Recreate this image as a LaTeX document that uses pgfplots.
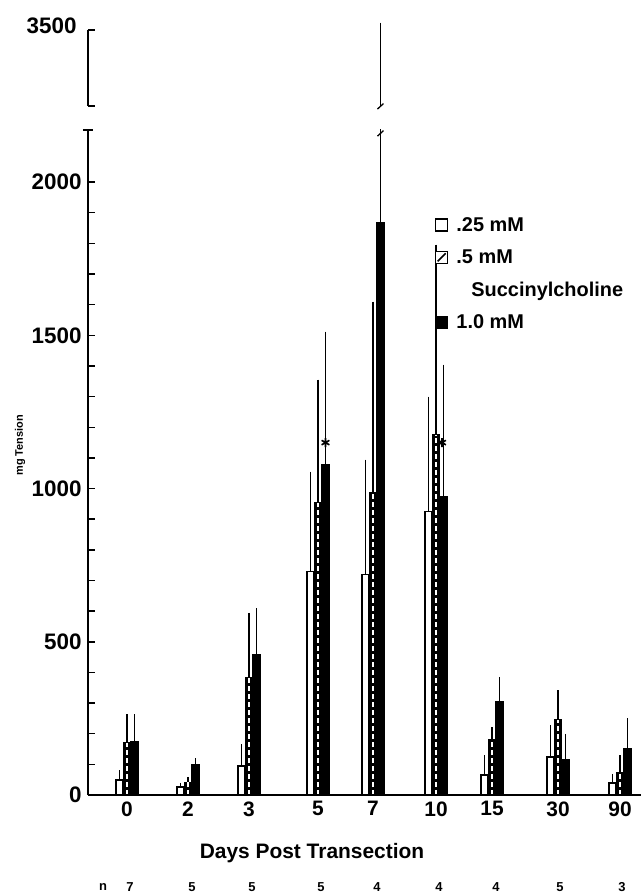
\documentclass[border=0pt]{standalone}
\usepackage{fontspec}
\setmainfont{Liberation Sans}
\usepackage{pgfplots}
\usepackage{pgfplotstable}
\pgfplotsset{compat=1.18}

% xa/xb/xc = bar positions along the axis, a/b/c = .25/.5/1.0 mM, ae/be/ce = upper SE
\pgfplotstableread{
xa    xb  xc    a   ae   b    be   c    ce
119.5 127 134.5 49  23   170  85   173  82
180.5 188 195.5 26  5    42   8    98   13
241.5 249 256.5 95  62   382  203  458  143
310.5 318 325.5 729 317  954  392  1078 425
365.5 373 380.5 719 366  987  614  1869 1646
428.5 436 443.5 925 366  1176 611  974  421
484.5 492 499.5 65  56   180  32   304  72
550.5 558 565.5 124 95   245  88   114  76
612.5 620 627.5 40  20   72   49   150  92
}\tension

\pgfplotsset{
  errs/.style={error bars/y dir=plus, error bars/y explicit, error bars/error mark=-,
    error bars/error bar style={line width=1.2bp, black, solid},
    error bars/error mark options={line width=1.4bp, mark size=2.8bp, black, solid}},
  base/.style={width=553bp, scale only axis, xmin=88, xmax=641,
    axis line style={line width=1.8bp, -}, tick style={line width=1.5bp, black},
    tick align=inside, major tick length=7bp, minor tick length=7bp,
    /pgf/number format/assume math mode=true,
    every tick label/.append style={font=\fontsize{21}{24}\selectfont\bfseries},
    yticklabel style={font=\fontsize{22.5}{26}\selectfont\bfseries, xshift=-3bp},
    clip mode=individual, axis on top},
}
\tikzset{nlab/.style={font=\fontsize{13}{15}\selectfont\bfseries, anchor=center}}

\begin{document}
\begin{tikzpicture}
\path[use as bounding box] (-88bp,-100bp) rectangle (553bp,795bp);

\begin{axis}[base, name=lower, height=665bp, ymin=0, ymax=2170,
  axis x line*=bottom, axis y line*=left,
  xtick={127,188,249,318,373,436,492,558,620},
  xticklabels={0,2,3,5,7,10,15,30,90},
  x tick style={draw=none},
  xticklabel style={yshift=-3bp},
  ytick={0,500,1000,1500,2000}, yticklabels={0,500,1000,1500,2000},
  minor ytick={100,200,300,400,600,700,800,900,1100,1200,1300,1400,1600,1700,1800,1900},
  extra y ticks={2170}, extra y tick labels={},
  extra y tick style={tick align=center, major tick length=10bp},
  xlabel={Days Post Transection},
  xlabel style={at={(axis description cs:0.405,-0.087)}, anchor=center,
    font=\fontsize{21}{24}\selectfont\bfseries},
  ylabel={mg Tension},
  ylabel style={at={(axis description cs:-0.123,0.526)}, anchor=center,
    font=\fontsize{11}{13}\selectfont\bfseries},
  legend cell align=left,
  legend style={draw=none, fill=none, at={(axis description cs:0.627,0.872)},
    anchor=north west, inner sep=0pt, row sep=13bp,
    /tikz/every odd column/.append style={column sep=6bp},
    font=\fontsize{20}{22}\selectfont\bfseries},
]
\addplot[ybar, bar width=7.5, draw=black, line width=1.6bp, fill=white, errs,
  legend image code/.code={\draw[line width=1.5bp, fill=white] (0bp,-6bp) rectangle (12bp,6bp);}]
  table[x=xa, y=a, y error=ae]{\tension};
\addlegendentry{.25 mM}
\addplot[ybar, bar width=7.5, draw=black, line width=1.2bp, fill=black, errs,
  legend image code/.code={\draw[line width=1.5bp, fill=white] (0bp,-6bp) rectangle (12bp,6bp);
    \draw[line width=1.5bp] (2bp,-4bp) -- (10bp,4bp);}]
  table[x=xb, y=b, y error=be]{\tension};
\addlegendentry{.5 mM}
\addplot[ycomb, white, line width=1.4bp, dash pattern=on 5bp off 3bp, forget plot]
  table[x=xb, y=b]{\tension};
\addlegendimage{empty legend}
\addlegendentry{\hspace{15bp}Succinylcholine}
\addplot[ybar, bar width=7.5, draw=black, line width=1.2bp, fill=black, errs,
  legend image code/.code={\fill[black] (0bp,-6bp) rectangle (12bp,6bp);}]
  table[x=xc, y=c, y error=ce]{\tension};
\addlegendentry{1.0 mM}
\addplot[only marks, mark=asterisk, mark size=4.5bp, line width=1.6bp, forget plot]
  coordinates {(325.5,1150) (442,1150)};
% break mark on the broken error bar
\draw[line width=1.3bp] (axis cs:377.5,2150) -- (axis cs:383.5,2168);
% n per group
\node[nlab] at (axis cs:103,-300) {n};
\node[nlab] at (axis cs:130,-300) {7};
\node[nlab] at (axis cs:192,-300) {5};
\node[nlab] at (axis cs:252,-300) {5};
\node[nlab] at (axis cs:321,-300) {5};
\node[nlab] at (axis cs:377,-300) {4};
\node[nlab] at (axis cs:439,-300) {4};
\node[nlab] at (axis cs:496,-300) {4};
\node[nlab] at (axis cs:560,-300) {5};
\node[nlab] at (axis cs:622,-300) {3};
\end{axis}

\begin{axis}[base, at={(0,689bp)}, anchor=south west, height=76bp,
  ymin=3250, ymax=3500, axis x line=none, axis y line*=left,
  ytick={3250,3500}, yticklabels={,3500}, xtick=\empty, clip=false,
  yticklabel style={xshift=-5bp, yshift=4bp}]
\addplot[draw=none, mark=none, errs] coordinates {(380.5,3250) +- (0,265)};
\draw[line width=1.3bp] (axis cs:377.5,3240) -- (axis cs:383.5,3258);
\end{axis}
\end{tikzpicture}
\end{document}
